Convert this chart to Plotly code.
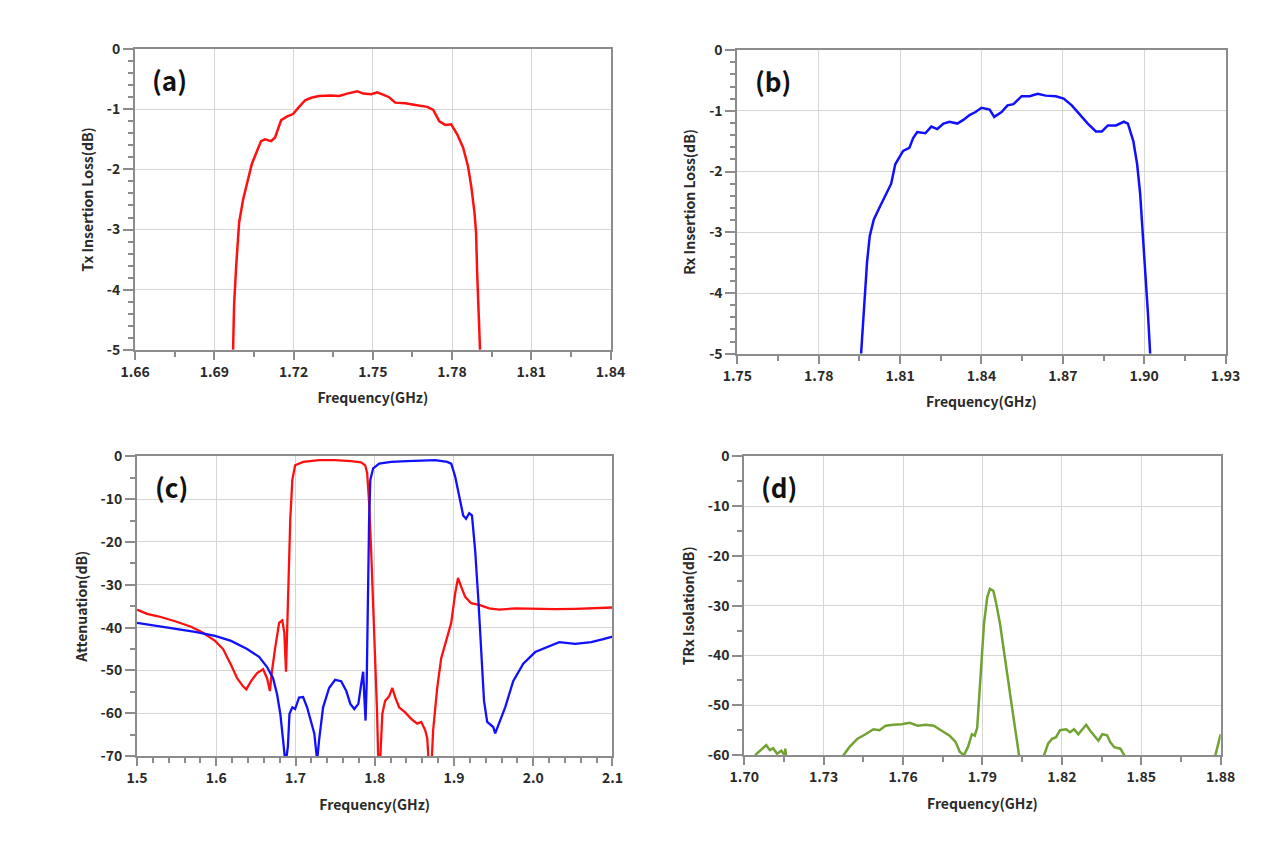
import plotly.graph_objects as go

# ---------------- data ----------------
# (a) Tx insertion loss
tx_il_freq = [1.6971, 1.6975, 1.6983, 1.6994, 1.7009, 1.7024, 1.7042, 1.7062, 1.7077, 1.7092,
              1.7115, 1.7130, 1.7153, 1.7176, 1.7198, 1.7221, 1.7244, 1.7267, 1.7297, 1.7342,
              1.7373, 1.7403, 1.7441, 1.7464, 1.7494, 1.7517, 1.7539, 1.7562, 1.7585, 1.7623,
              1.7661, 1.7706, 1.7729, 1.7752, 1.7774, 1.7797, 1.7820, 1.7842, 1.7861, 1.7873,
              1.7885, 1.7891, 1.7895, 1.7900, 1.7906]
tx_il_db = [-5.0, -4.24, -3.59, -2.88, -2.50, -2.23, -1.91, -1.69, -1.53, -1.50,
            -1.53, -1.47, -1.18, -1.12, -1.08, -0.96, -0.85, -0.81, -0.78, -0.77,
            -0.78, -0.74, -0.70, -0.74, -0.75, -0.72, -0.76, -0.80, -0.89, -0.90,
            -0.93, -0.96, -1.01, -1.20, -1.26, -1.25, -1.42, -1.64, -1.96, -2.29,
            -2.72, -3.05, -3.70, -4.24, -5.0]

# (b) Rx insertion loss
rx_il_freq = [1.7956, 1.7968, 1.7978, 1.7988, 1.8003, 1.8023, 1.8045, 1.8067, 1.8082, 1.8097,
              1.8111, 1.8134, 1.8148, 1.8163, 1.8193, 1.8215, 1.8237, 1.8260, 1.8282, 1.8311,
              1.8333, 1.8356, 1.8378, 1.8400, 1.8430, 1.8447, 1.8474, 1.8496, 1.8518, 1.8548,
              1.8578, 1.8607, 1.8637, 1.8674, 1.8703, 1.8733, 1.8763, 1.8792, 1.8822, 1.8844,
              1.8866, 1.8896, 1.8925, 1.8940, 1.8960, 1.8974, 1.8985, 1.8995, 1.9004, 1.9014,
              1.9022]
rx_il_db = [-5.0, -4.18, -3.49, -3.06, -2.79, -2.60, -2.41, -2.20, -1.88, -1.77,
            -1.66, -1.61, -1.45, -1.35, -1.37, -1.26, -1.30, -1.21, -1.18, -1.21,
            -1.15, -1.07, -1.02, -0.95, -0.98, -1.10, -1.02, -0.91, -0.89, -0.76,
            -0.76, -0.72, -0.75, -0.76, -0.80, -0.91, -1.06, -1.21, -1.34, -1.34,
            -1.24, -1.24, -1.18, -1.21, -1.50, -1.88, -2.36, -3.00, -3.65, -4.35,
            -5.0]

# (c) wideband attenuation, Tx (red)
tx_att_freq = [1.5000, 1.5126, 1.5278, 1.5480, 1.5682, 1.5833, 1.5985, 1.6086, 1.6187, 1.6263,
               1.6338, 1.6379, 1.6439, 1.6515, 1.6591, 1.6641, 1.6677, 1.6702, 1.6742, 1.6793,
               1.6833, 1.6859, 1.6880, 1.6909, 1.6934, 1.6960, 1.6995, 1.7096, 1.7298, 1.7500,
               1.7702, 1.7828, 1.7879, 1.7904, 1.7929, 1.7955, 1.7980, 1.8005, 1.8030, 1.8048,
               1.8066, 1.8096, 1.8131, 1.8182, 1.8222, 1.8258, 1.8308, 1.8384, 1.8460, 1.8535,
               1.8586, 1.8636, 1.8662, 1.8690, 1.8712, 1.8737, 1.8788, 1.8838, 1.8914, 1.8965,
               1.9015, 1.9051, 1.9091, 1.9141, 1.9217, 1.9318, 1.9444, 1.9571, 1.9773, 2.0025,
               2.0278, 2.0530, 2.0783, 2.1000]
tx_att_db = [-35.8, -36.8, -37.4, -38.5, -39.8, -41.2, -43.1, -45.0, -48.7, -51.8,
             -53.7, -54.4, -52.5, -50.6, -49.7, -51.8, -54.8, -50.3, -44.9, -38.9,
             -38.3, -41.2, -50.3, -29.8, -14.6, -5.5, -2.1, -1.3, -0.9, -0.9,
             -1.1, -1.4, -2.1, -3.9, -10.8, -22.2, -33.6, -44.9, -60.1, -74.0,
             -72.0, -60.1, -57.1, -56.0, -54.1, -56.3, -58.6, -59.8, -61.3, -62.4,
             -62.0, -63.9, -65.8, -74.0, -74.0, -63.9, -54.1, -47.2, -41.9, -38.9,
             -32.0, -28.4, -30.5, -32.8, -34.3, -34.7, -35.5, -35.8, -35.5, -35.6,
             -35.7, -35.6, -35.5, -35.3]

# (c) wideband attenuation, Rx (blue)
rx_att_freq = [1.5000, 1.5227, 1.5480, 1.5732, 1.5985, 1.6187, 1.6389, 1.6540, 1.6641, 1.6717,
               1.6768, 1.6808, 1.6843, 1.6874, 1.6904, 1.6924, 1.6960, 1.6995, 1.7045, 1.7096,
               1.7146, 1.7197, 1.7237, 1.7273, 1.7298, 1.7348, 1.7424, 1.7500, 1.7576, 1.7641,
               1.7692, 1.7742, 1.7793, 1.7828, 1.7854, 1.7869, 1.7884, 1.7899, 1.7914, 1.7929,
               1.7944, 1.7980, 1.8056, 1.8207, 1.8409, 1.8611, 1.8763, 1.8914, 1.8965, 1.9015,
               1.9066, 1.9116, 1.9152, 1.9192, 1.9227, 1.9268, 1.9308, 1.9343, 1.9379, 1.9419,
               1.9495, 1.9520, 1.9571, 1.9646, 1.9747, 1.9874, 2.0025, 2.0177, 2.0328, 2.0530,
               2.0732, 2.0884, 2.1000]
rx_att_db = [-38.9, -39.5, -40.2, -41.0, -41.9, -43.1, -45.0, -46.8, -49.2, -51.8,
             -55.6, -60.1, -66.2, -72.0, -67.7, -60.1, -58.6, -59.0, -56.3, -56.2,
             -58.6, -61.7, -64.7, -71.0, -66.2, -58.6, -54.1, -52.2, -52.5, -54.8,
             -57.8, -59.0, -57.8, -53.3, -50.3, -56.3, -61.7, -52.5, -29.8, -14.6,
             -5.5, -2.8, -1.7, -1.3, -1.1, -0.9, -0.9, -1.3, -1.7, -4.7,
             -9.3, -13.8, -14.6, -13.3, -13.8, -22.2, -33.6, -44.9, -57.1, -62.0,
             -63.2, -64.7, -62.4, -58.6, -52.5, -48.4, -45.7, -44.6, -43.4, -43.8,
             -43.4, -42.7, -42.1]

# (d) TRx isolation
iso_freq = [1.7041, 1.7064, 1.7083, 1.7097, 1.7109, 1.7124, 1.7140, 1.7152, 1.7155, 1.7158,
            1.7200, 1.7372, 1.7375, 1.7397, 1.7428, 1.7458, 1.7488, 1.7511, 1.7534, 1.7564,
            1.7595, 1.7625, 1.7655, 1.7686, 1.7716, 1.7746, 1.7776, 1.7799, 1.7814, 1.7830,
            1.7845, 1.7860, 1.7871, 1.7880, 1.7887, 1.7895, 1.7906, 1.7918, 1.7928, 1.7941,
            1.7951, 1.7966, 1.7981, 1.7996, 1.8012, 1.8027, 1.8039, 1.8050, 1.8125, 1.8133,
            1.8148, 1.8163, 1.8178, 1.8193, 1.8216, 1.8231, 1.8246, 1.8262, 1.8277, 1.8292,
            1.8307, 1.8322, 1.8338, 1.8353, 1.8371, 1.8383, 1.8398, 1.8421, 1.8436, 1.8444,
            1.8777, 1.8780, 1.8792, 1.8800]
iso_db = [-60.0, -59.0, -58.0, -59.0, -58.6, -59.7, -59.1, -60.0, -58.7, -60.3,
          -63.0, -63.0, -60.0, -58.4, -56.7, -55.8, -54.8, -55.0, -54.1, -53.9,
          -53.8, -53.5, -54.1, -53.9, -54.1, -55.1, -56.1, -57.4, -59.3, -60.0,
          -58.4, -55.8, -56.1, -54.5, -49.2, -42.0, -33.5, -28.3, -26.6, -27.0,
          -29.3, -33.5, -38.7, -44.6, -50.5, -56.4, -60.3, -63.0, -63.0, -60.0,
          -57.7, -56.7, -56.4, -55.0, -54.8, -55.4, -54.8, -55.8, -54.8, -53.9,
          -55.1, -56.1, -57.1, -55.8, -56.0, -57.4, -58.4, -58.7, -60.0, -63.0,
          -63.0, -60.0, -57.4, -55.8]

# tick values / labels
a_xticks = [1.66, 1.69, 1.72, 1.75, 1.78, 1.81, 1.84]
b_xticks = [1.75, 1.78, 1.81, 1.84, 1.87, 1.90, 1.93]
c_xticks = [1.5, 1.6, 1.7, 1.8, 1.9, 2.0, 2.1]
d_xticks = [1.70, 1.73, 1.76, 1.79, 1.82, 1.85, 1.88]
a_xlabels = ["1.66", "1.69", "1.72", "1.75", "1.78", "1.81", "1.84"]
b_xlabels = ["1.75", "1.78", "1.81", "1.84", "1.87", "1.90", "1.93"]
c_xlabels = ["1.5", "1.6", "1.7", "1.8", "1.9", "2.0", "2.1"]
d_xlabels = ["1.70", "1.73", "1.76", "1.79", "1.82", "1.85", "1.88"]
il_yticks = [0, -1, -2, -3, -4, -5]
il_ylabels = ["0", "-1", "-2", "-3", "-4", "-5"]
att_yticks = [0, -10, -20, -30, -40, -50, -60, -70]
att_ylabels = ["0", "-10", "-20", "-30", "-40", "-50", "-60", "-70"]
iso_yticks = [0, -10, -20, -30, -40, -50, -60]
iso_ylabels = ["0", "-10", "-20", "-30", "-40", "-50", "-60"]

panel_labels = ["(a)", "(b)", "(c)", "(d)"]
y_titles = ["Tx Insertion Loss(dB)", "Rx Insertion Loss(dB)", "Attenuation(dB)", "TRx Isolation(dB)"]
x_title = "Frequency(GHz)"

# ---------------- figure ----------------
W, H = 1263, 854
FONT = "Noto Sans CJK JP"
RED = "#ff1010"
BLUE = "#1010ff"
GREEN = "#72a233"

fig = go.Figure()
fig.add_trace(go.Scatter(x=tx_il_freq, y=tx_il_db, mode="lines", line=dict(color=RED, width=2.5),
                         xaxis="x", yaxis="y", showlegend=False))
fig.add_trace(go.Scatter(x=rx_il_freq, y=rx_il_db, mode="lines", line=dict(color=BLUE, width=2.5),
                         xaxis="x2", yaxis="y2", showlegend=False))
fig.add_trace(go.Scatter(x=tx_att_freq, y=tx_att_db, mode="lines", line=dict(color=RED, width=2.3),
                         xaxis="x3", yaxis="y3", showlegend=False))
fig.add_trace(go.Scatter(x=rx_att_freq, y=rx_att_db, mode="lines", line=dict(color=BLUE, width=2.3),
                         xaxis="x3", yaxis="y3", showlegend=False))
fig.add_trace(go.Scatter(x=iso_freq, y=iso_db, mode="lines", line=dict(color=GREEN, width=2.5),
                         xaxis="x4", yaxis="y4", showlegend=False))

# pixel boxes of plot areas: (left, right, top, bottom)
boxes = [(123, 610, 39, 347), (740, 1240, 40, 351), (125, 612, 456, 763), (747, 1235, 456, 762)]
xcfg = [  # range, minor dtick, tickvals, ticktext
    ([1.66, 1.84], 0.015, a_xticks, a_xlabels),
    ([1.75, 1.93], 0.015, b_xticks, b_xlabels),
    ([1.5, 2.1], 0.02, c_xticks, c_xlabels),
    ([1.70, 1.88], 0.015, d_xticks, d_xlabels),
]
ycfg = [
    ([-5, 0], 0.2, il_yticks, il_ylabels),
    ([-5, 0], 0.2, il_yticks, il_ylabels),
    ([-70, 0], 5, att_yticks, att_ylabels),
    ([-60, 0], 5, iso_yticks, iso_ylabels),
]
tickfont = dict(family=FONT, size=14, color="#2a2a2a", weight="bold")
titlefont = dict(family=FONT, size=14, color="#2a2a2a", weight="bold")
AX = "#8c8c8c"

layout = dict(width=W, height=H, margin=dict(l=0, r=0, t=0, b=0),
              paper_bgcolor="white", plot_bgcolor="white", showlegend=False)
annotations = []
for i, (l, r, t, b) in enumerate(boxes):
    sx = "" if i == 0 else str(i + 1)
    xr, xm, xtv, xtt = xcfg[i]
    yr, ym, ytv, ytt = ycfg[i]
    layout["xaxis" + sx] = dict(
        domain=[l / W, r / W], anchor="y" + sx, range=xr,
        tickmode="array", tickvals=xtv, ticktext=xtt,
        showgrid=True, gridcolor="#d6d6d6", gridwidth=1,
        showline=True, linecolor=AX, linewidth=2, mirror=True,
        ticks="outside", ticklen=8, tickwidth=1.5, tickcolor=AX,
        minor=dict(dtick=xm, tick0=xr[0], ticks="outside", ticklen=5, tickcolor=AX,
                   tickwidth=1.5, showgrid=False),
        tickfont=tickfont, zeroline=False, fixedrange=True,
        title=dict(text=x_title, font=titlefont, standoff=14),
    )
    layout["yaxis" + sx] = dict(
        domain=[1 - b / H, 1 - t / H], anchor="x" + sx, range=yr,
        tickmode="array", tickvals=ytv, ticktext=ytt,
        showgrid=True, gridcolor="#d6d6d6", gridwidth=1,
        showline=True, linecolor=AX, linewidth=2, mirror=True,
        ticks="outside", ticklen=10, tickwidth=1.5, tickcolor=AX,
        minor=dict(dtick=ym, tick0=0, ticks="outside", ticklen=5, tickcolor=AX,
                   tickwidth=1.5, showgrid=False),
        tickfont=tickfont, zeroline=False, fixedrange=True,
        title=dict(text=y_titles[i], font=titlefont, standoff=10),
    )
    annotations.append(dict(
        text=panel_labels[i], xref="x" + sx + " domain", yref="y" + sx + " domain",
        x=0.072, y=0.90, xanchor="center", yanchor="middle", showarrow=False,
        font=dict(family=FONT, size=26, color="#111111", weight="bold"),
    ))
layout["annotations"] = annotations
fig.update_layout(**layout)

fig.write_html("out.html", config={"displayModeBar": False},
               post_script="document.body.style.margin='0';")
